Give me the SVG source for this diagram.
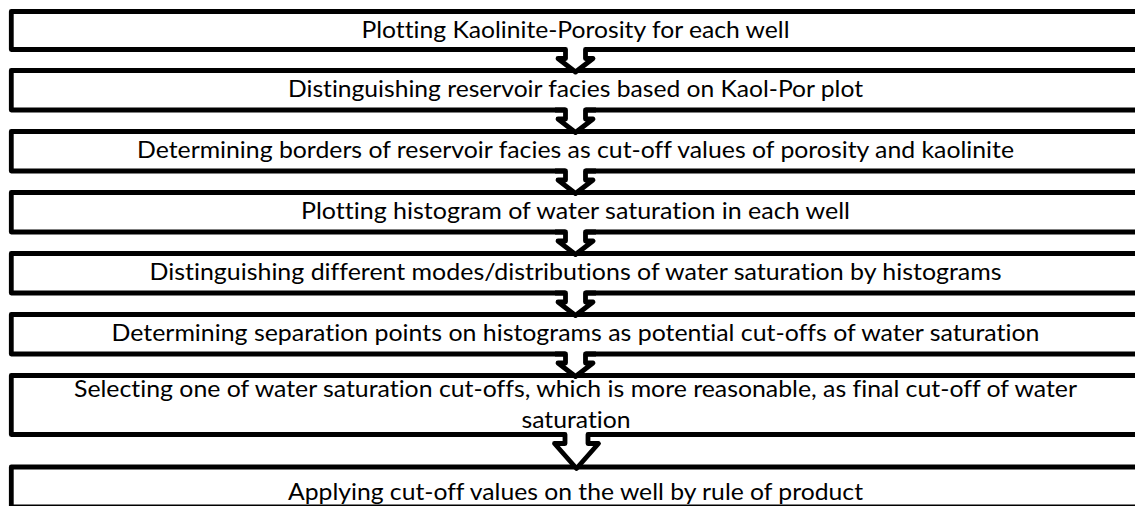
<svg xmlns="http://www.w3.org/2000/svg" width="1135" height="506" viewBox="0 0 1135 506">
<style>
.box{fill:#fff;stroke:#000;stroke-width:4.8;stroke-linejoin:round}
.t{font-family:Lato,"Liberation Sans",Arial,sans-serif;font-size:24px;fill:#000;text-anchor:middle;font-variant-ligatures:none;font-feature-settings:"liga" 0,"dlig" 0}
.ah{fill:none;stroke:#000;stroke-width:4.8;stroke-linejoin:round;stroke-linecap:butt}
.ahf{fill:#fff;stroke:none}
</style>
<rect width="1135" height="506" fill="#fff"/>
<g id="n1"><rect class="box" x="11.3" y="11.5" width="1140" height="38"/><text class="t" x="575.5" y="37.5" textLength="428" lengthAdjust="spacingAndGlyphs">Plotting Kaolinite-Porosity for each well</text></g>
<g id="n2"><rect class="box" x="11.3" y="70.5" width="1140" height="39.5"/><text class="t" x="575.5" y="97" textLength="575" lengthAdjust="spacingAndGlyphs">Distinguishing reservoir facies based on Kaol-Por plot</text></g>
<g id="n3"><rect class="box" x="11.3" y="131.5" width="1140" height="39.5"/><text class="t" x="575.5" y="158" textLength="877" lengthAdjust="spacingAndGlyphs">Determining borders of reservoir facies as cut-off values of porosity and kaolinite</text></g>
<g id="n4"><rect class="box" x="11.3" y="192.5" width="1140" height="39.5"/><text class="t" x="575.5" y="219" textLength="549" lengthAdjust="spacingAndGlyphs">Plotting histogram of water saturation in each well</text></g>
<g id="n5"><rect class="box" x="11.3" y="253.5" width="1140" height="39.5"/><text class="t" x="575.5" y="280" textLength="852" lengthAdjust="spacingAndGlyphs">Distinguishing different modes/distributions of water saturation by histograms</text></g>
<g id="n6"><rect class="box" x="11.3" y="314.5" width="1140" height="39.5"/><text class="t" x="575.5" y="341" textLength="928" lengthAdjust="spacingAndGlyphs">Determining separation points on histograms as potential cut-offs of water saturation</text></g>
<g id="n7"><rect class="box" x="11.3" y="375.5" width="1140" height="59"/><text class="t" x="575.5" y="397" textLength="1003" lengthAdjust="spacingAndGlyphs">Selecting one of water saturation cut-offs, which is more reasonable, as final cut-off of water</text><text class="t" x="576" y="428" textLength="109" lengthAdjust="spacingAndGlyphs">saturation</text></g>
<g id="n8"><rect class="box" x="11.3" y="467" width="1140" height="40"/><text class="t" x="575.5" y="500" textLength="575" lengthAdjust="spacingAndGlyphs">Applying cut-off values on the well by rule of product</text></g>
<g id="connectors">
<g transform="translate(0,0)"><polygon class="ahf" points="565.5,46 585.5,46 585.5,58.5 593,58.5 575.5,72 558,58.5 565.5,58.5"/><path class="ah" d="M555 49.5H565.5V58.5H558L575.5,72L593,58.5H585.5V49.5H596"/></g>
<g transform="translate(0,60.5)"><polygon class="ahf" points="565.5,46 585.5,46 585.5,58.5 593,58.5 575.5,72 558,58.5 565.5,58.5"/><path class="ah" d="M555 49.5H565.5V58.5H558L575.5,72L593,58.5H585.5V49.5H596"/></g>
<g transform="translate(0,121.5)"><polygon class="ahf" points="565.5,46 585.5,46 585.5,58.5 593,58.5 575.5,72 558,58.5 565.5,58.5"/><path class="ah" d="M555 49.5H565.5V58.5H558L575.5,72L593,58.5H585.5V49.5H596"/></g>
<g transform="translate(0,182.5)"><polygon class="ahf" points="565.5,46 585.5,46 585.5,58.5 593,58.5 575.5,72 558,58.5 565.5,58.5"/><path class="ah" d="M555 49.5H565.5V58.5H558L575.5,72L593,58.5H585.5V49.5H596"/></g>
<g transform="translate(0,243.5)"><polygon class="ahf" points="565.5,46 585.5,46 585.5,58.5 593,58.5 575.5,72 558,58.5 565.5,58.5"/><path class="ah" d="M555 49.5H565.5V58.5H558L575.5,72L593,58.5H585.5V49.5H596"/></g>
<g transform="translate(0,304.5)"><polygon class="ahf" points="565.5,46 585.5,46 585.5,58.5 593,58.5 575.5,72 558,58.5 565.5,58.5"/><path class="ah" d="M555 49.5H565.5V58.5H558L575.5,72L593,58.5H585.5V49.5H596"/></g>
<polygon class="ahf" points="565,431 588,431 588,443.5 598.5,443.5 576.5,468.5 554.5,443.5 565,443.5"/>
<path class="ah" d="M553 434.5H565V443.5H554.5L576.5,468.5L598.5,443.5H588V434.5H600"/>
</g>
</svg>
